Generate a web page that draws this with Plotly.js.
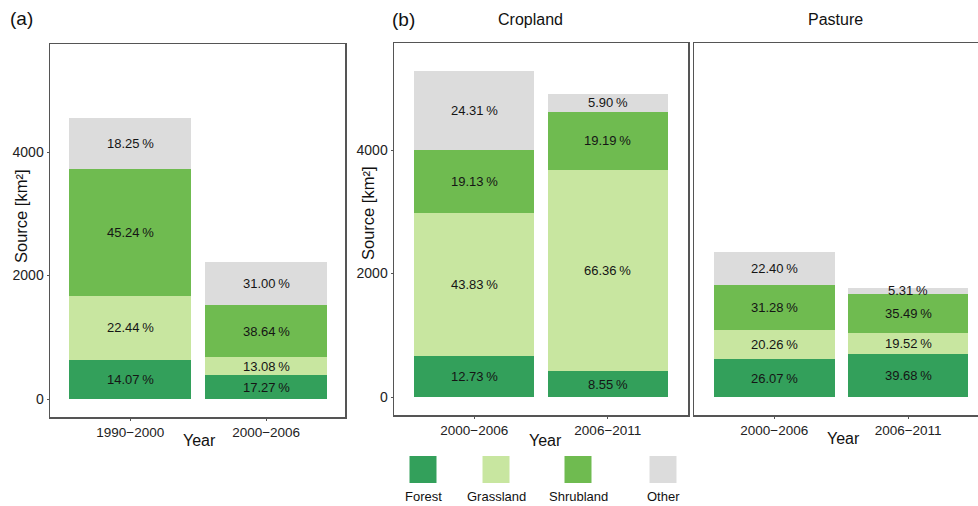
<!DOCTYPE html>
<html><head><meta charset="utf-8">
<script src="https://cdn.plot.ly/plotly-3.0.1.min.js"></script>
<style>html,body{margin:0;padding:0;background:#fff}#chart{width:978px;height:506px}</style>
</head><body><div id="chart"></div>
<script>
// ---------- data ----------
const landCovers = ['Forest', 'Grassland', 'Shrubland', 'Other'];

// Panel (a)
const periodsA = ['1990−2000', '2000−2006'];
const forestA = [640, 383];
const grassA  = [1021, 290];
const shrubA  = [2059, 857];
const otherA  = [831, 688];
const pctForestA = [14.07, 17.27];
const pctGrassA  = [22.44, 13.08];
const pctShrubA  = [45.24, 38.64];
const pctOtherA  = [18.25, 31.00];

// Panel (b) Cropland
const periodsB = ['2000−2006', '2006−2011'];
const forestCrop = [672, 420];
const grassCrop  = [2314, 3256];
const shrubCrop  = [1010, 942];
const otherCrop  = [1283, 290];
const pctForestCrop = [12.73, 8.55];
const pctGrassCrop  = [43.83, 66.36];
const pctShrubCrop  = [19.13, 19.19];
const pctOtherCrop  = [24.31, 5.90];

// Panel (b) Pasture
const forestPast = [612, 700];
const grassPast  = [476, 345];
const shrubPast  = [734, 626];
const otherPast  = [526, 94];
const pctForestPast = [26.07, 39.68];
const pctGrassPast  = [20.26, 19.52];
const pctShrubPast  = [31.28, 35.49];
const pctOtherPast  = [22.40, 5.31];

const yTicks = [0, 2000, 4000];

// ---------- styles ----------
const coverColors = ['#33a05b', '#c8e6a0', '#6fbb50', '#dcdcdc'];
const FONT = 'Liberation Sans, Arial, sans-serif';
const frameColor = '#555555';

const panels = [
  {cats: periodsA, vals: [forestA, grassA, shrubA, otherA], pcts: [pctForestA, pctGrassA, pctShrubA, pctOtherA], xa: 'x', ya: 'y'},
  {cats: periodsB, vals: [forestCrop, grassCrop, shrubCrop, otherCrop], pcts: [pctForestCrop, pctGrassCrop, pctShrubCrop, pctOtherCrop], xa: 'x2', ya: 'y2'},
  {cats: periodsB, vals: [forestPast, grassPast, shrubPast, otherPast], pcts: [pctForestPast, pctGrassPast, pctShrubPast, pctOtherPast], xa: 'x3', ya: 'y3'}
];

const traces = [];
const annotations = [];
panels.forEach(p => {
  const cum = p.cats.map(() => 0);
  p.vals.forEach((v, k) => {
    traces.push({
      type: 'bar', x: p.cats, y: v, name: landCovers[k], xaxis: p.xa, yaxis: p.ya,
      marker: {color: coverColors[k], line: {width: 0}}, width: 0.9, showlegend: false,
      hoverinfo: 'skip'
    });
    p.cats.forEach((c, i) => {
      annotations.push({
        xref: p.xa, yref: p.ya, x: c, y: cum[i] + v[i] / 2,
        text: p.pcts[k][i].toFixed(2) + '\u2009%', showarrow: false,
        font: {family: FONT, size: 13, color: '#151515'}
      });
      cum[i] += v[i];
    });
  });
});

// text annotations (titles, labels)
const addText = (text, x, y, size, extra) => annotations.push(Object.assign({
  xref: 'paper', yref: 'paper', x: x / 978, y: 1 - y / 506, text: text, showarrow: false,
  xanchor: 'center', yanchor: 'middle', font: {family: FONT, size: size, color: '#111'}
}, extra || {}));

addText('(a)', 21.5, 18, 19);
addText('(b)', 403.5, 20, 19);
addText('Cropland', 530, 19, 16);
addText('Pasture', 835, 20, 16);
addText('Year', 199, 440, 16);
addText('Year', 545, 440, 16);
addText('Year', 843, 438, 16);
addText('Source [km²]', 21, 216, 16.5, {textangle: -90});
addText('Source [km²]', 368, 213, 16.5, {textangle: -90});

// manual legend below panel (b)
const legendX = [423, 496, 578, 663];
const shapes = [];
landCovers.forEach((name, k) => {
  shapes.push({type: 'rect', xref: 'paper', yref: 'paper',
    x0: (legendX[k] - 13.5) / 978, x1: (legendX[k] + 13.5) / 978,
    y0: 1 - 483 / 506, y1: 1 - 456 / 506,
    fillcolor: coverColors[k], line: {width: 0}});
  addText(name, legendX[k], 496, 13);
});

const xBase = {type: 'category', showline: true, linecolor: frameColor, linewidth: 1.5,
  ticks: 'outside', ticklen: 2, tickcolor: frameColor, tickfont: {family: FONT, size: 13.5, color: '#222'},
  showgrid: false, zeroline: false, fixedrange: true};
const yBase = {showline: true, linecolor: frameColor, linewidth: 1.5, tickvals: yTicks,
  ticks: 'outside', ticklen: 2, tickcolor: frameColor, tickfont: {family: FONT, size: 14, color: '#222'},
  showgrid: false, zeroline: false, fixedrange: true};

const layout = {
  width: 978, height: 506, margin: {l: 0, r: 0, t: 0, b: 0},
  paper_bgcolor: '#fff', plot_bgcolor: '#fff', barmode: 'stack', bargap: 0.1,
  font: {family: FONT},
  xaxis: Object.assign({}, xBase, {domain: [50 / 978, 345 / 978], range: [-0.59, 1.58], mirror: true, anchor: 'y'}),
  yaxis: Object.assign({}, yBase, {domain: [1 - 417 / 506, 1 - 44 / 506], range: [-291, 5749], mirror: true, anchor: 'x'}),
  xaxis2: Object.assign({}, xBase, {domain: [394 / 978, 688 / 978], range: [-0.6, 1.6], mirror: true, anchor: 'y2'}),
  yaxis2: Object.assign({}, yBase, {domain: [1 - 415 / 506, 1 - 43 / 506], range: [-291, 5733], mirror: true, anchor: 'x2'}),
  xaxis3: Object.assign({}, xBase, {domain: [694 / 978, 1], range: [-0.6, 1.522], mirror: true, anchor: 'y3'}),
  yaxis3: Object.assign({}, yBase, {domain: [1 - 415 / 506, 1 - 43 / 506], range: [-291, 5733], mirror: false, showticklabels: false, ticks: '', anchor: 'x3'}),
  annotations: annotations, shapes: shapes
};

Plotly.newPlot('chart', traces, layout, {staticPlot: true, displayModeBar: false});
</script></body></html>
